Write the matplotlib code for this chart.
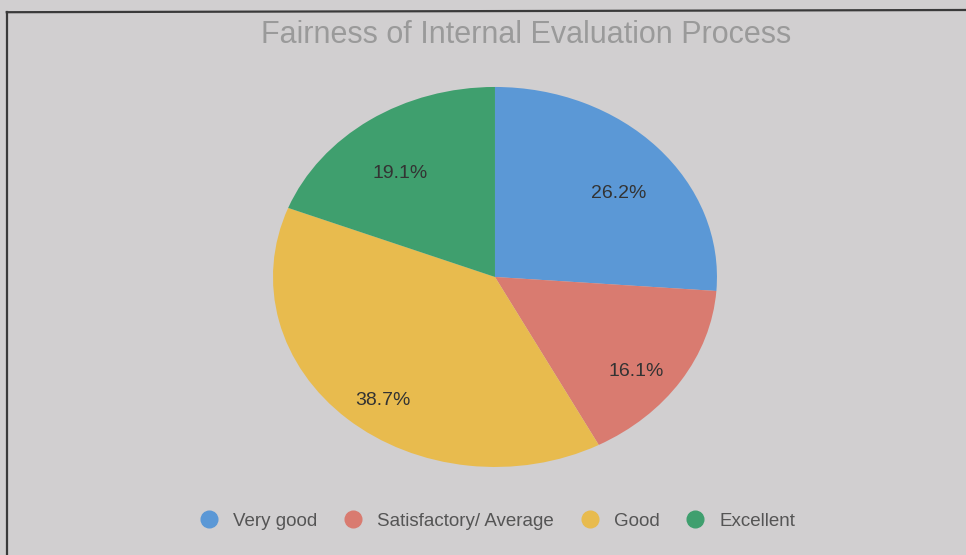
import matplotlib
matplotlib.use("Agg")
import matplotlib.pyplot as plt
from matplotlib.lines import Line2D
import matplotlib.transforms as mtransforms
import numpy as np

title = "Fairness of Internal Evaluation Process"
categories = ["Very good", "Satisfactory/ Average", "Good", "Excellent"]
values = [26.2, 16.1, 38.7, 19.1]
pct_labels = ["26.2%", "16.1%", "38.7%", "19.1%"]
colors = ["#5b98d6", "#d97b70", "#e8bb4e", "#3f9f6e"]

bg = "#d1cfd0"
fig = plt.figure(figsize=(9.66, 5.55), dpi=100, facecolor=bg)

# frame lines of the printed chart
fig.add_artist(Line2D([0.007, 1.0], [0.978, 0.982], color="#3a3a3a", lw=1.6, transform=fig.transFigure))
fig.add_artist(Line2D([0.007, 0.007], [0.978, 0.0], color="#3a3a3a", lw=1.6, transform=fig.transFigure))

fig.text(0.545, 0.937, title, ha="center", va="center", fontsize=22,
         color="#9a9a9a", family="Liberation Sans")

ax = fig.add_axes([0.2826, 0.1586, 0.4596, 0.6847])
ax.set_facecolor(bg)
wedges, _ = ax.pie(values, colors=colors, startangle=90, counterclock=False,
                   radius=1.0, wedgeprops=dict(linewidth=0))
label_tr = ax.transData + mtransforms.ScaledTranslation(0, -11 / 72, fig.dpi_scale_trans)
for w, lab in zip(wedges, pct_labels):
    ang = np.deg2rad((w.theta1 + w.theta2) / 2)
    r = 0.76
    ax.text(r * np.cos(ang), r * np.sin(ang), lab, ha="center", va="center",
            fontsize=14, color="#333333", family="Liberation Sans", transform=label_tr)
ax.set_aspect("auto")
ax.set_xlim(-1, 1)
ax.set_ylim(-1, 1)
ax.axis("off")

handles = [Line2D([0], [0], marker="o", linestyle="none", markersize=12,
                  markerfacecolor=c, markeredgecolor=c) for c in colors]
leg = fig.legend(handles, categories, loc="center", bbox_to_anchor=(0.515, 0.061),
                 ncol=4, frameon=False, handlelength=1.0, handletextpad=0.8,
                 columnspacing=1.4, prop={"family": "Liberation Sans", "size": 13.5})
for t in leg.get_texts():
    t.set_color("#555555")

fig.savefig("out.png", dpi=100, facecolor=bg)
